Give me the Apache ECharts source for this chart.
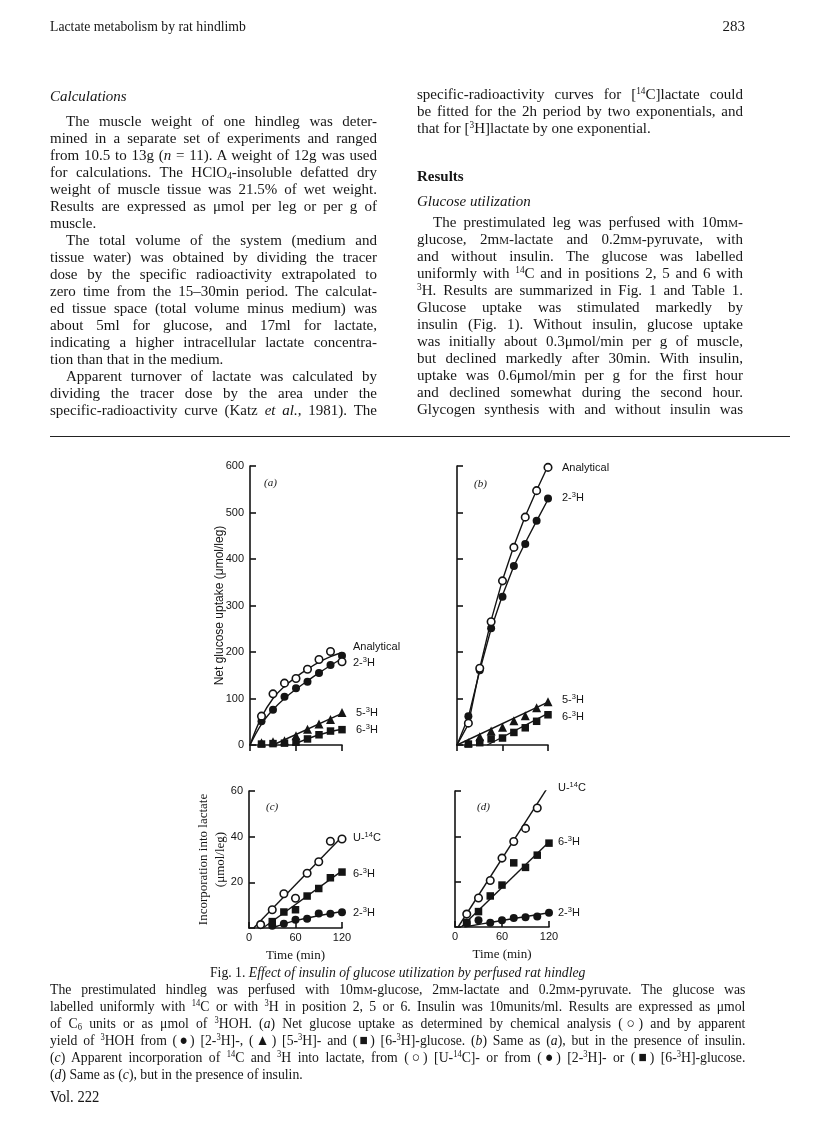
<!DOCTYPE html>
<html>
<head>
<meta charset="utf-8">
<script src="https://cdn.jsdelivr.net/npm/echarts@6/dist/echarts.min.js"></script>
<style>
  body { margin: 0; background: #fff; }
  #page { position: relative; width: 816px; height: 1139px; font-family: "Liberation Serif", "DejaVu Serif", serif; color: #161616; overflow: hidden; }
  #chart { position: absolute; left: 0; top: 0; width: 816px; height: 1139px; }
  .ln { position: absolute; font-size: 15px; line-height: 17px; text-align: justify; text-align-last: justify; }
  .cap { position: absolute; left: 50px; width: 760px; font-size: 15px; line-height: 17px; text-align: justify; text-align-last: justify; transform: scaleX(0.915); transform-origin: 0 0; }
  .ln.last, .cap.last { text-align: left; text-align-last: left; }
  sup { font-size: 0.62em; vertical-align: 0.5em; line-height: 0; }
  sub { font-size: 0.62em; vertical-align: -0.2em; line-height: 0; }
  .sc { font-variant: small-caps; }
  .rule { position: absolute; left: 50px; width: 740px; top: 436px; height: 0; border-top: 1.3px solid #222; }
</style>
</head>
<body>
<div id="page">
  <div id="chart"></div>
</div>
<script>
// sampling times (min)
const times = [15, 30, 45, 60, 75, 90, 105, 120];
const times30 = [30, 45, 60, 75, 90, 105, 120];

// (a) net glucose uptake without insulin (umol/leg)
const aAnalytical = [62, 110, 133, 143, 163, 184, 201, 179];
const a2H = [51, 76, 104, 122, 136, 155, 172, 192];
const a5H = [5, 7, 9, 20, 34, 45, 55, 70];
const a6H = [2, 3, 4, 6, 13, 22, 30, 33];
const aFitAnalytical = [[0, 0], [15, 60], [30, 100], [45, 126], [60, 146], [75, 163], [90, 178], [105, 190], [120, 199]];
const aFit2H = [[0, 0], [15, 45], [30, 76], [45, 100], [60, 120], [75, 138], [90, 155], [105, 171], [120, 186]];
const aFit5H = [[30, 0], [120, 68]];
const aFit6H = [[55, 0], [90, 22], [120, 34]];

// (b) net glucose uptake with insulin
const bAnalytical = [47, 165, 265, 353, 425, 490, 547, 597];
const b2H = [62, 161, 251, 319, 385, 432, 482, 530];
const b5H = [5, 18, 30, 38, 52, 63, 80, 93];
const b6H = [2, 5, 13, 15, 27, 37, 51, 65];
const bFitAnalytical = [[0, 0], [15, 45], [30, 165], [45, 268], [60, 355], [75, 428], [90, 492], [105, 548], [120, 600]];
const bFit2H = [[0, 0], [15, 60], [30, 160], [45, 250], [60, 322], [75, 385], [90, 435], [105, 482], [120, 528]];
const bFit5H = [[0, 0], [120, 92]];
const bFit6H = [[40, 0], [120, 68]];

// (c) incorporation into lactate without insulin (umol/leg)
const cU14C = [1.5, 8, 15, 13, 24, 29, 38, 39];
const c6H = [2.8, 7, 8, 14, 17.3, 22, 24.5];
const c2H = [1, 1.9, 3.6, 4.1, 6.3, 6.2, 6.9];
const cFitU14C = [[6, 0], [120, 40]];
const cFit6H = [[18, 0], [120, 25]];
const cFit2H = [[30, 0], [60, 3.2], [120, 7.2]];

// (d) incorporation into lactate with insulin
const dU14C = [5.7, 12.8, 20.5, 30.4, 37.7, 43.5, 52.5, 61.5];
const d6H = [2, 6.8, 13.7, 18.5, 28.3, 26.3, 31.7, 37];
const d2H = [1.8, 3, 1.9, 3, 4, 4.3, 4.6, 6.3];
const dFitU14C = [[4, 0], [120, 62.5]];
const dFit6H = [[8, 0], [120, 37.5]];
const dFit2H = [[12, 0], [45, 2], [120, 6.3]];

const yTicksUptake = [0, 600, 100];   // min, max, interval
const yTicksLactate = [0, 60, 20];
const xTicks = [0, 120, 60];

// ---- page text ----
const leftCol = [
  ['<i>Calculations</i>', 97, 0, true],
  ['The muscle weight of one hindleg was deter-', 122, 1],
  ['mined in a separate set of experiments and ranged', 139, 0],
  ['from 10.5 to 13g (<i>n</i> = 11). A weight of 12g was used', 156, 0],
  ['for calculations. The HClO<sub>4</sub>-insoluble defatted dry', 173, 0],
  ['weight of muscle tissue was 21.5% of wet weight.', 190, 0],
  ['Results are expressed as μmol per leg or per g of', 207, 0],
  ['muscle.', 224, 0, true],
  ['The total volume of the system (medium and', 241, 1],
  ['tissue water) was obtained by dividing the tracer', 258, 0],
  ['dose by the specific radioactivity extrapolated to', 275, 0],
  ['zero time from the 15–30min period. The calculat-', 292, 0],
  ['ed tissue space (total volume minus medium) was', 309, 0],
  ['about 5ml for glucose, and 17ml for lactate,', 326, 0],
  ['indicating a higher intracellular lactate concentra-', 343, 0],
  ['tion than that in the medium.', 360, 0, true],
  ['Apparent turnover of lactate was calculated by', 377, 1],
  ['dividing the tracer dose by the area under the', 394, 0],
  ['specific-radioactivity curve (Katz <i>et al.</i>, 1981). The', 411, 0]
];
const mM = 'm<span class="sc">m</span>';
const rightCol = [
  ['specific-radioactivity curves for [<sup>14</sup>C]lactate could', 95, 0],
  ['be fitted for the 2h period by two exponentials, and', 112, 0],
  ['that for [<sup>3</sup>H]lactate by one exponential.', 129, 0, true],
  ['<b>Results</b>', 177, 0, true],
  ['<i>Glucose utilization</i>', 202, 0, true],
  ['The prestimulated leg was perfused with 10' + mM + '-', 223, 1],
  ['glucose, 2' + mM + '-lactate and 0.2' + mM + '-pyruvate, with', 240, 0],
  ['and without insulin. The glucose was labelled', 257, 0],
  ['uniformly with <sup>14</sup>C and in positions 2, 5 and 6 with', 274, 0],
  ['<sup>3</sup>H. Results are summarized in Fig. 1 and Table 1.', 291, 0],
  ['Glucose uptake was stimulated markedly by', 308, 0],
  ['insulin (Fig. 1). Without insulin, glucose uptake', 325, 0],
  ['was initially about 0.3μmol/min per g of muscle,', 342, 0],
  ['but declined markedly after 30min. With insulin,', 359, 0],
  ['uptake was 0.6μmol/min per g for the first hour', 376, 0],
  ['and declined somewhat during the second hour.', 393, 0],
  ['Glycogen synthesis with and without insulin was', 410, 0]
];
const caption = [
  ['The prestimulated hindleg was perfused with 10' + mM + '-glucose, 2' + mM + '-lactate and 0.2' + mM + '-pyruvate. The glucose was', 990],
  ['labelled uniformly with <sup>14</sup>C or with <sup>3</sup>H in position 2, 5 or 6. Insulin was 10munits/ml. Results are expressed as μmol', 1007],
  ['of C<sub>6</sub> units or as μmol of <sup>3</sup>HOH. (<i>a</i>) Net glucose uptake as determined by chemical analysis (○) and by apparent', 1024],
  ['yield of <sup>3</sup>HOH from (●) [2-<sup>3</sup>H]-, (▲) [5-<sup>3</sup>H]- and (■) [6-<sup>3</sup>H]-glucose. (<i>b</i>) Same as (<i>a</i>), but in the presence of insulin.', 1041],
  ['(<i>c</i>) Apparent incorporation of <sup>14</sup>C and <sup>3</sup>H into lactate, from (○) [U-<sup>14</sup>C]- or from (●) [2-<sup>3</sup>H]- or (■) [6-<sup>3</sup>H]-glucose.', 1058],
  ['(<i>d</i>) Same as (<i>c</i>), but in the presence of insulin.', 1075, true]
];

const page = document.getElementById('page');
function addLine(html, x, w, y, cls, extra) {
  const d = document.createElement('div');
  d.className = cls;
  d.innerHTML = html;
  d.style.left = x + 'px';
  d.style.width = w + 'px';
  d.style.top = (y - 9) + 'px';
  if (extra) Object.assign(d.style, extra);
  page.appendChild(d);
  return d;
}
leftCol.forEach(([h, y, ind, last]) => addLine(h, 50 + ind * 16, 327 - ind * 16, y, 'ln' + (last ? ' last' : '')));
rightCol.forEach(([h, y, ind, last]) => addLine(h, 417 + ind * 16, 326 - ind * 16, y, 'ln' + (last ? ' last' : '')));
caption.forEach(([h, y, last]) => addLine(h, 50, 760, y, 'cap' + (last ? ' last' : '')));
addLine('Fig. 1. <i>Effect of insulin of glucose utilization by perfused rat hindleg</i>', 50, 760, 973, 'cap', { textAlign: 'center', textAlignLast: 'center' });
addLine('Lactate metabolism by rat hindlimb', 50, 400, 27, 'cap last');
addLine('283', 700, 45, 27, 'cap', { textAlign: 'right', textAlignLast: 'right', transform: 'none' });
addLine('Vol. 222', 50, 120, 1097, 'cap last', { fontSize: '16px' });
const rule = document.createElement('div');
rule.className = 'rule';
page.appendChild(rule);

// ---- figure ----
const chart = echarts.init(document.getElementById('chart'), null, { renderer: 'canvas' });
const ink = '#141414';
const sans = '"Liberation Sans", Arial, sans-serif';
const serif = '"Liberation Serif", "Times New Roman", serif';

const pts = (ts, vs) => ts.map((t, i) => [t, vs[i]]);

function scatter(idx, data, symbol, filled, size) {
  return {
    type: 'scatter', xAxisIndex: idx, yAxisIndex: idx, data, symbol,
    symbolSize: size,
    itemStyle: { color: filled ? ink : '#fff', borderColor: ink, borderWidth: filled ? 0 : 1.6, opacity: 1 },
    z: 4, silent: true
  };
}
function fit(idx, data, smooth) {
  return {
    type: 'line', xAxisIndex: idx, yAxisIndex: idx, data, showSymbol: false,
    smooth: smooth || false, lineStyle: { color: ink, width: 1.4 }, z: 2, silent: true
  };
}

function xAxis(idx, showLabels, ticksUp) {
  return {
    gridIndex: idx, type: 'value', min: xTicks[0], max: xTicks[1], interval: xTicks[2],
    axisLine: { lineStyle: { color: ink, width: 1.6 } },
    axisTick: { show: true, inside: ticksUp, length: 6, lineStyle: { color: ink, width: 1.6 } },
    axisLabel: { show: showLabels, color: ink, fontFamily: sans, fontSize: 11, margin: 4 },
    splitLine: { show: false },
    name: showLabels ? 'Time (min)' : '', nameLocation: 'middle', nameGap: 21, nameMoveOverlap: false,
    nameTextStyle: { color: ink, fontFamily: serif, fontSize: 13 }
  };
}
function yAxis(idx, ticks, showLabels, hideZero, name, nameFont, nameGap) {
  return {
    gridIndex: idx, type: 'value', min: ticks[0], max: ticks[1], interval: ticks[2],
    axisLine: { lineStyle: { color: ink, width: 1.6 } },
    axisTick: { show: true, inside: true, length: 6, lineStyle: { color: ink, width: 1.6 } },
    axisLabel: {
      show: showLabels, color: ink, fontFamily: sans, fontSize: 11, margin: 6,
      formatter: v => (hideZero && v === 0 ? '' : String(v))
    },
    splitLine: { show: false },
    name: name || '', nameLocation: 'middle', nameGap: nameGap || 0, nameRotate: 90, nameMoveOverlap: false,
    nameTextStyle: Object.assign({ color: ink, lineHeight: 17 }, nameFont || {})
  };
}

const rich = {
  n: { fontFamily: sans, fontSize: 11, lineHeight: 14, color: ink },
  s: { fontFamily: sans, fontSize: 7.5, lineHeight: 14, verticalAlign: 'top', color: ink, padding: [0, 0, 4, 0] }
};
function tag(x, y, text) {
  return { type: 'text', x, y, silent: true, style: { text, rich, fill: ink, verticalAlign: 'middle', font: '11px ' + sans } };
}
function panel(x, y, text) {
  return { type: 'text', x, y, silent: true, style: { text, fill: ink, verticalAlign: 'middle', font: 'italic 11px ' + serif } };
}
const H2 = '{n|2-}{s|3}{n|H}', H5 = '{n|5-}{s|3}{n|H}', H6 = '{n|6-}{s|3}{n|H}', U14 = '{n|U-}{s|14}{n|C}';

chart.setOption({
  animation: false,
  grid: [
    { left: 250, top: 466, width: 92, height: 279 },
    { left: 457, top: 466, width: 91, height: 279 },
    { left: 249, top: 791, width: 93, height: 137 },
    { left: 455, top: 791, width: 94, height: 136 }
  ],
  xAxis: [xAxis(0, false, false), xAxis(1, false, false), xAxis(2, true, true), xAxis(3, true, true)],
  yAxis: [
    yAxis(0, yTicksUptake, true, false, 'Net glucose uptake (μmol/leg)', { fontFamily: sans, fontSize: 12 }, 22),
    yAxis(1, yTicksUptake, false, false),
    yAxis(2, yTicksLactate, true, true, 'Incorporation into lactate\n(μmol/leg)', { fontFamily: serif, fontSize: 13 }, 20),
    yAxis(3, yTicksLactate, false, true)
  ],
  series: [
    fit(0, aFitAnalytical, 0.4), fit(0, aFit2H, 0.4), fit(0, aFit5H), fit(0, aFit6H, 0.4),
    scatter(0, pts(times, a6H), 'rect', true, 7.5),
    scatter(0, pts(times, a5H), 'triangle', true, 9),
    scatter(0, pts(times, a2H), 'circle', true, 8),
    scatter(0, pts(times, aAnalytical), 'circle', false, 7.5),

    fit(1, bFitAnalytical), fit(1, bFit2H), fit(1, bFit5H), fit(1, bFit6H),
    scatter(1, pts(times, b6H), 'rect', true, 7.5),
    scatter(1, pts(times, b5H), 'triangle', true, 9),
    scatter(1, pts(times, b2H), 'circle', true, 8),
    scatter(1, pts(times, bAnalytical), 'circle', false, 7.5),

    fit(2, cFitU14C), fit(2, cFit6H), fit(2, cFit2H, 0.4),
    scatter(2, pts(times30, c6H), 'rect', true, 7.5),
    scatter(2, pts(times30, c2H), 'circle', true, 8),
    scatter(2, pts(times, cU14C), 'circle', false, 7.5),

    fit(3, dFitU14C), fit(3, dFit6H), fit(3, dFit2H, 0.4),
    scatter(3, pts(times, d6H), 'rect', true, 7.5),
    scatter(3, pts(times, d2H), 'circle', true, 8),
    scatter(3, pts(times, dU14C), 'circle', false, 7.5)
  ],
  graphic: [
    panel(264, 483, '(a)'), panel(474, 484, '(b)'), panel(266, 807, '(c)'), panel(477, 807, '(d)'),
    tag(353, 647, '{n|Analytical}'), tag(353, 663, H2), tag(356, 713, H5), tag(356, 730, H6),
    tag(562, 468, '{n|Analytical}'), tag(562, 498, H2), tag(562, 700, H5), tag(562, 717, H6),
    tag(353, 838, U14), tag(353, 874, H6), tag(353, 913, H2),
    tag(558, 788, U14), tag(558, 842, H6), tag(558, 913, H2)
  ]
});
</script>
</body>
</html>
